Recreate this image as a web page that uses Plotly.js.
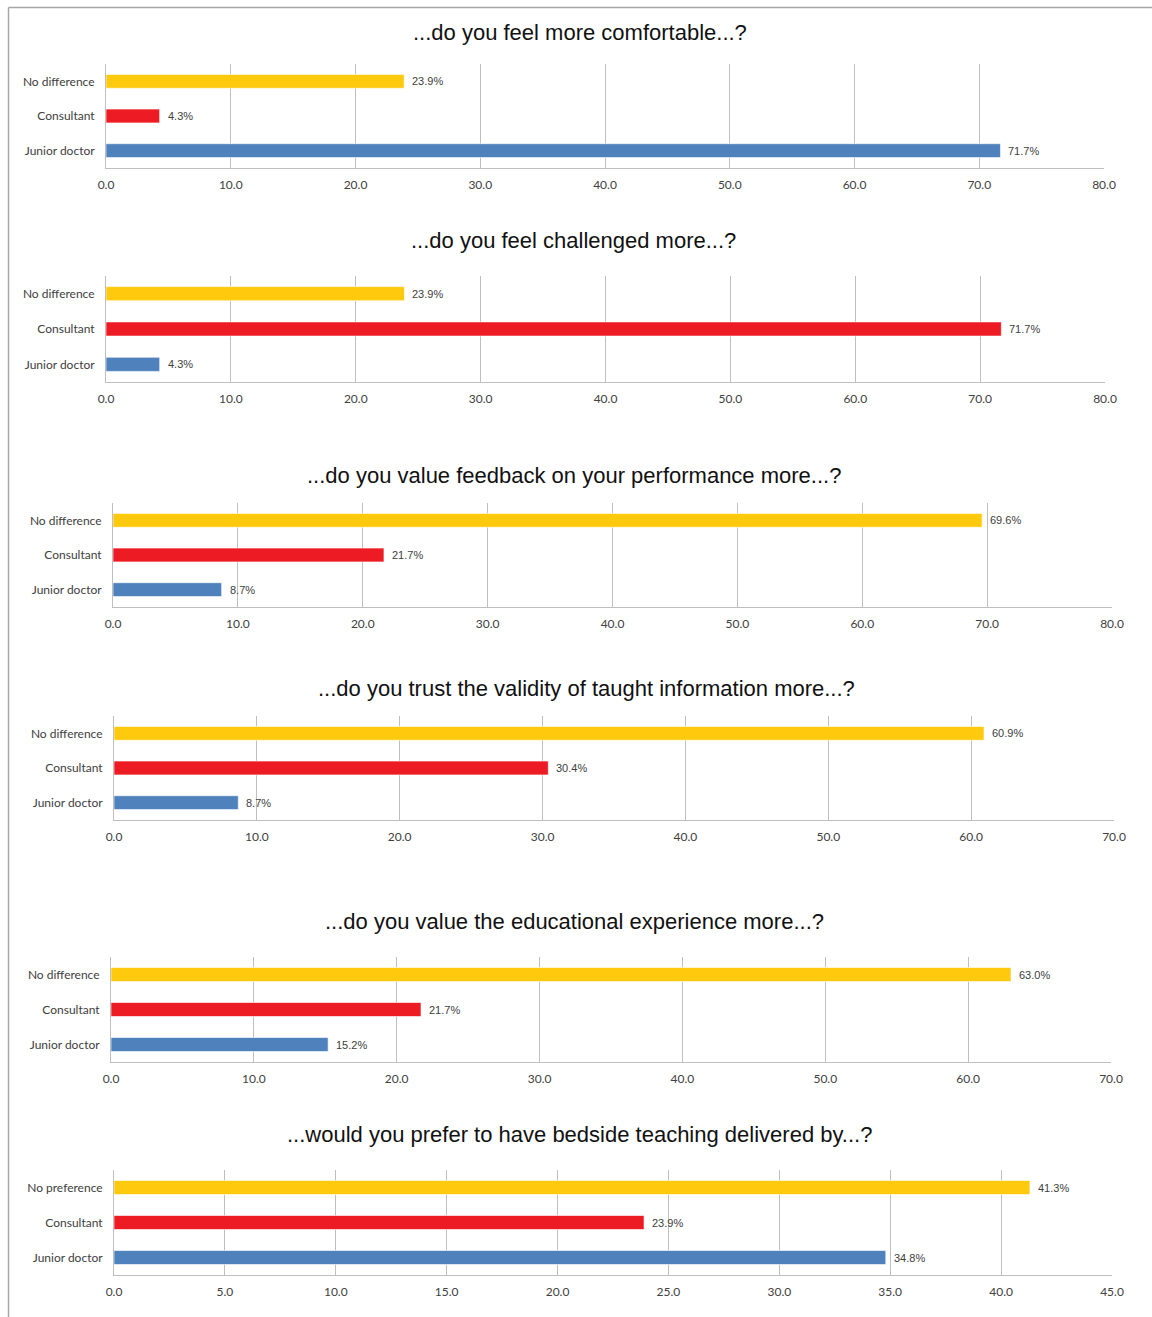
<!DOCTYPE html>
<html>
<head>
<meta charset="utf-8">
<script src="https://cdn.plot.ly/plotly-3.0.1.min.js"></script>
<style>html,body{margin:0;padding:0;background:#fff;}#chart{width:1152px;height:1317px;}</style>
</head>
<body>
<div id="chart"></div>
<script>
// ---- data ----
const titles = [
  "...do you feel more comfortable...?",
  "...do you feel challenged more...?",
  "...do you value feedback on your performance more...?",
  "...do you trust the validity of taught information more...?",
  "...do you value the educational experience more...?",
  "...would you prefer to have bedside teaching delivered by...?"
];
const catsDiff = ["Junior doctor", "Consultant", "No difference"];
const catsPref = ["Junior doctor", "Consultant", "No preference"];
const comfortable = [71.7, 4.3, 23.9];
const challenged  = [4.3, 71.7, 23.9];
const feedback    = [8.7, 21.7, 69.6];
const validity    = [8.7, 30.4, 60.9];
const experience  = [15.2, 21.7, 63.0];
const bedside     = [34.8, 23.9, 41.3];
const xMax  = [80, 80, 80, 70, 70, 45];
const xStep = [10, 10, 10, 10, 10, 5];

// ---- layout / style ----
const W = 1152, H = 1317;
const colors = ["#4F81BD", "#ED1C24", "#FFC90E"];
const seriesVals = [comfortable, challenged, feedback, validity, experience, bedside];
const seriesCats = [catsDiff, catsDiff, catsDiff, catsDiff, catsDiff, catsPref];
// plot areas in pixels: [x0, x1, yTop, yBottom, titleY, titleX]
const boxes = [
  [106, 1104, 64, 168, 33, 580],
  [106, 1105, 276, 382, 241, 573],
  [113, 1112, 503, 607, 475, 574],
  [114, 1114, 716, 820, 688, 586],
  [111, 1111, 957, 1062, 921, 574],
  [114, 1112, 1170, 1275, 1134, 579]
];

const traces = [];
const layout = {
  width: W, height: H,
  margin: {l: 0, r: 0, t: 0, b: 0},
  paper_bgcolor: "#fff", plot_bgcolor: "#fff",
  showlegend: false,
  bargap: 0.6,
  annotations: [],
  shapes: [
    {type: "line", xref: "paper", yref: "paper", x0: 8.5 / W, x1: 1, y0: 1 - 7.5 / H, y1: 1 - 7.5 / H, line: {color: "#A6A6A6", width: 1.5}},
    {type: "line", xref: "paper", yref: "paper", x0: 8.5 / W, x1: 8.5 / W, y0: 0, y1: 1 - 7.5 / H, line: {color: "#A6A6A6", width: 1.5}}
  ]
};

const tickFont = {family: "Lato, 'Open Sans', sans-serif", size: 12, color: "#404040"};

for (let i = 0; i < 6; i++) {
  const n = i === 0 ? "" : String(i + 1);
  const xa = "x" + n, ya = "y" + n;
  const b = boxes[i];
  traces.push({
    type: "bar", orientation: "h",
    x: seriesVals[i], y: seriesCats[i],
    xaxis: xa, yaxis: ya,
    marker: {color: colors, line: {color: "rgba(255,255,255,0.6)", width: 1}},
    hoverinfo: "none"
  });
  layout["xaxis" + n] = {
    domain: [b[0] / W, b[1] / W],
    anchor: ya,
    range: [0, xMax[i]],
    dtick: xStep[i], tick0: 0,
    tickformat: ".1f",
    showgrid: true, gridcolor: "#BFBFBF", gridwidth: 1,
    zeroline: false,
    showline: true, linecolor: "#BFBFBF", linewidth: 1,
    ticks: "", ticklabelstandoff: 6,
    tickfont: tickFont,
    fixedrange: true
  };
  layout["yaxis" + n] = {
    domain: [1 - b[3] / H, 1 - b[2] / H],
    anchor: xa,
    type: "category",
    categoryorder: "array", categoryarray: seriesCats[i],
    showgrid: false, zeroline: false,
    showline: true, linecolor: "#BFBFBF", linewidth: 1,
    ticks: "", ticklabelstandoff: 8,
    tickfont: tickFont,
    fixedrange: true
  };
  layout.annotations.push({
    xref: "paper", yref: "paper",
    x: b[5] / W, y: 1 - b[4] / H,
    xanchor: "center", yanchor: "middle",
    text: titles[i], showarrow: false,
    font: {family: "'Liberation Sans', Arial, sans-serif", size: 22, color: "#111111"}
  });
  for (let k = 0; k < seriesVals[i].length; k++) {
    layout.annotations.push({
      xref: xa, yref: ya,
      x: seriesVals[i][k], y: seriesCats[i][k],
      xanchor: "left", yanchor: "middle", xshift: 6,
      text: seriesVals[i][k].toFixed(1) + "%",
      showarrow: false,
      font: {family: "'Liberation Sans', Arial, sans-serif", size: 11, color: "#404040"}
    });
  }
}

Plotly.newPlot("chart", traces, layout, {displayModeBar: false, staticPlot: true});
</script>
</body>
</html>
